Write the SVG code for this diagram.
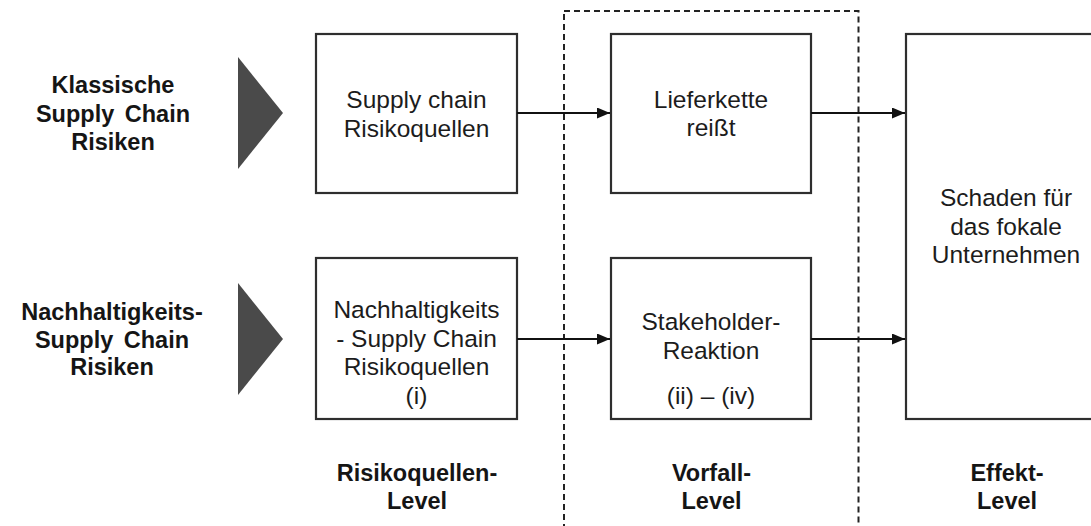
<svg xmlns="http://www.w3.org/2000/svg" width="1091" height="526" viewBox="0 0 1091 526">
<defs>
<style>
.box{fill:#fff;stroke:#2e2e2e;stroke-width:2.2}
.t{font-family:"Liberation Sans",Arial,sans-serif;font-size:24.5px;fill:#1c1c1c;text-anchor:middle}
.b{font-family:"Liberation Sans",Arial,sans-serif;font-size:23.5px;font-weight:bold;fill:#151515;text-anchor:middle}
.conn{stroke:#111;stroke-width:2;fill:none;marker-end:url(#ah)}
.tri{fill:#4a4a4a}
</style>
<marker id="ah" markerUnits="userSpaceOnUse" markerWidth="13" markerHeight="11" refX="13" refY="5.5" orient="auto">
<path d="M0,0 L13,5.5 L0,11 Z" fill="#111"/>
</marker>
</defs>
<rect width="1091" height="526" fill="#fff"/>
<g id="vorfall-frame">
<rect x="564" y="11" width="294.5" height="540" fill="none" stroke="#222" stroke-width="2" stroke-dasharray="6,4"/>
</g>
<g id="label-klassisch">
<text class="b" x="113" y="93">Klassische</text>
<text class="b" x="113" y="121.5" word-spacing="4">Supply Chain</text>
<text class="b" x="113" y="150">Risiken</text>
<polygon class="tri" points="238,57 283,113 238,169"/>
</g>
<g id="label-nachhaltig">
<text class="b" x="112" y="320">Nachhaltigkeits-</text>
<text class="b" x="112" y="347.5" word-spacing="4">Supply Chain</text>
<text class="b" x="112" y="375">Risiken</text>
<polygon class="tri" points="238,283 283,339 238,395"/>
</g>
<g id="node-sc-risikoquellen">
<rect class="box" x="316" y="34" width="201" height="159"/>
<text class="t" x="416.5" y="108">Supply chain</text>
<text class="t" x="416.5" y="136.5">Risikoquellen</text>
</g>
<g id="node-nh-risikoquellen">
<rect class="box" x="316" y="258" width="201" height="161"/>
<text class="t" x="416.5" y="318">Nachhaltigkeits</text>
<text class="t" x="416.5" y="346.5">- Supply Chain</text>
<text class="t" x="416.5" y="375">Risikoquellen</text>
<text class="t" x="416.5" y="404">(i)</text>
</g>
<g id="node-lieferkette">
<rect class="box" x="611" y="34" width="200" height="159"/>
<text class="t" x="711" y="107.5">Lieferkette</text>
<text class="t" x="711" y="136">reißt</text>
</g>
<g id="node-stakeholder">
<rect class="box" x="611" y="258" width="200" height="161"/>
<text class="t" x="711" y="330">Stakeholder-</text>
<text class="t" x="711" y="359">Reaktion</text>
<text class="t" x="711" y="404">(ii) – (iv)</text>
</g>
<g id="node-schaden">
<rect class="box" x="906" y="34" width="201" height="385"/>
<text class="t" x="1006" y="206">Schaden für</text>
<text class="t" x="1006" y="234.5">das fokale</text>
<text class="t" x="1006" y="263">Unternehmen</text>
</g>
<g id="level-labels">
<text class="b" x="417" y="481">Risikoquellen-</text>
<text class="b" x="417" y="509">Level</text>
<text class="b" x="711.5" y="481">Vorfall-</text>
<text class="b" x="711.5" y="509">Level</text>
<text class="b" x="1007" y="481">Effekt-</text>
<text class="b" x="1007" y="509">Level</text>
</g>
<g id="connectors">
<line class="conn" x1="517" y1="113" x2="610" y2="113"/>
<line class="conn" x1="517" y1="339" x2="610" y2="339"/>
<line class="conn" x1="811" y1="113" x2="905" y2="113"/>
<line class="conn" x1="811" y1="339" x2="905" y2="339"/>
</g>
</svg>
